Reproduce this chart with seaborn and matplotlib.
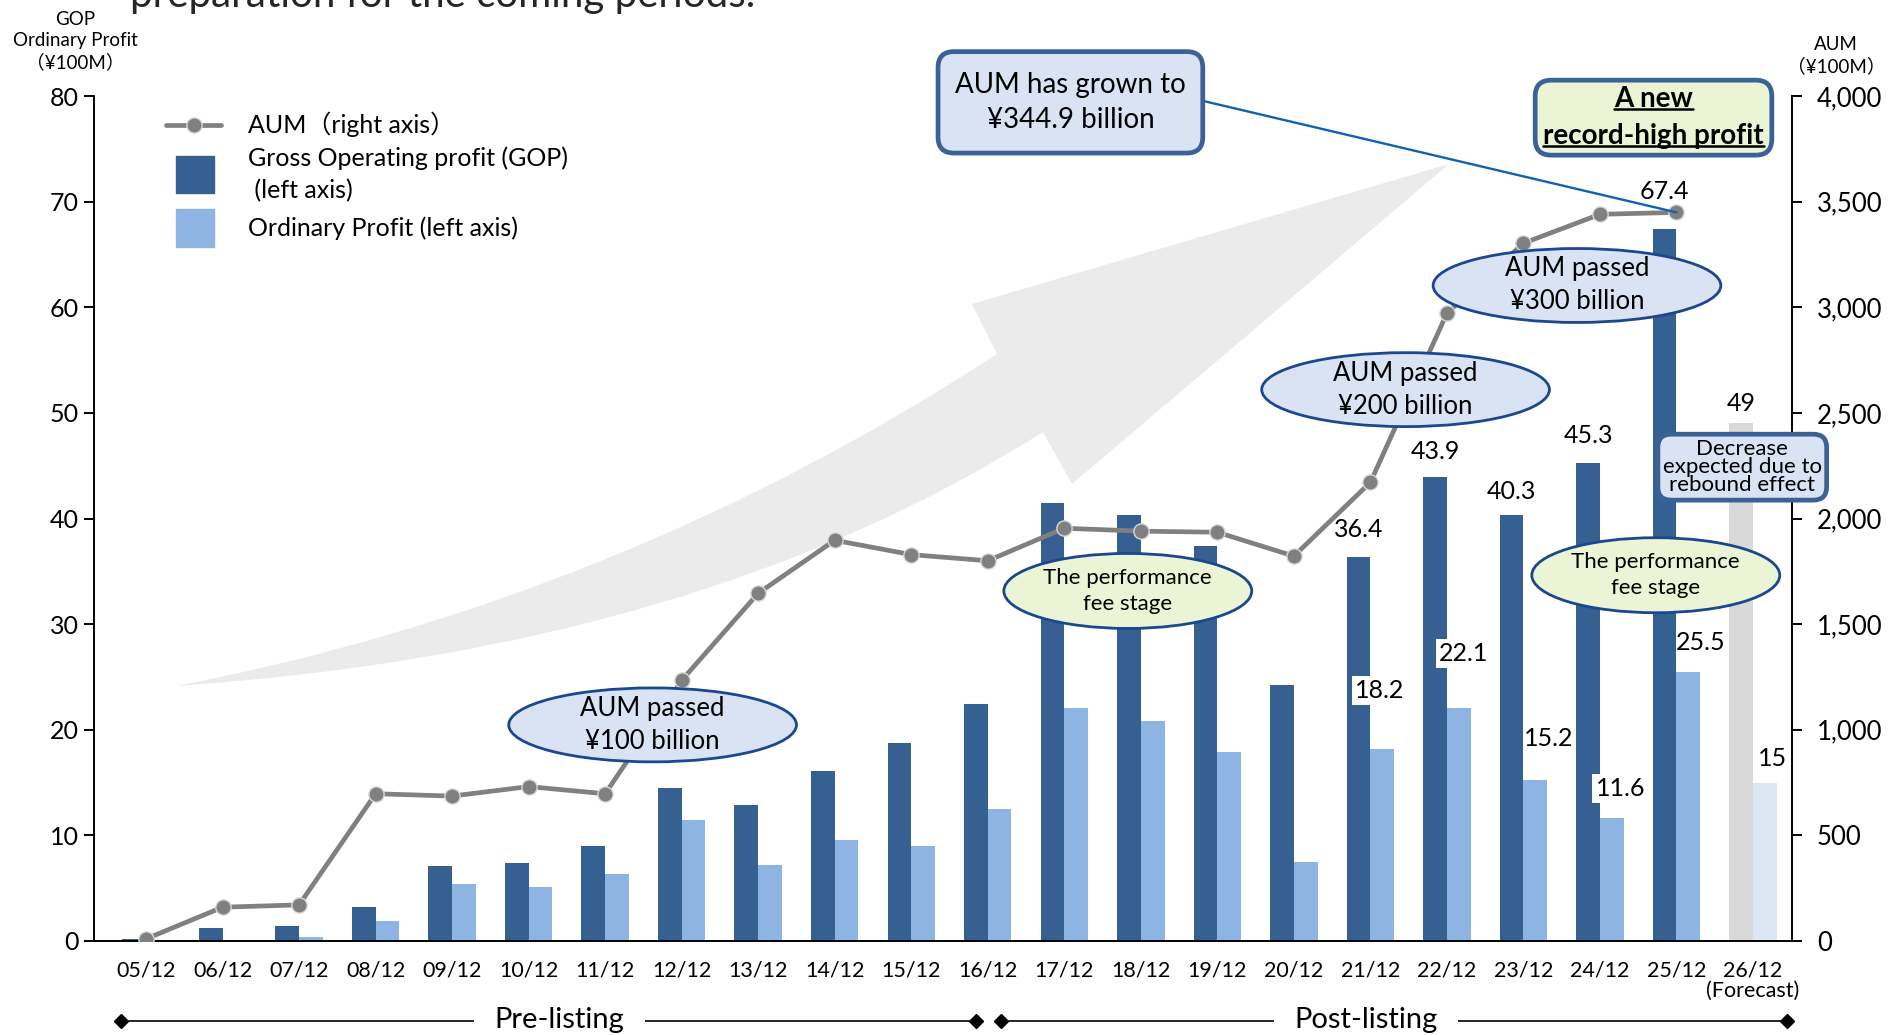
import numpy as np
import pandas as pd
import matplotlib
matplotlib.use("Agg")
import matplotlib.pyplot as plt
import matplotlib.transforms as mtransforms
import seaborn as sns
from matplotlib.patches import Ellipse, PathPatch, Rectangle, FancyBboxPatch
from matplotlib.path import Path
from matplotlib.lines import Line2D

# ---------------- data ----------------
periods = ["05/12", "06/12", "07/12", "08/12", "09/12", "10/12", "11/12", "12/12",
           "13/12", "14/12", "15/12", "16/12", "17/12", "18/12", "19/12", "20/12",
           "21/12", "22/12", "23/12", "24/12", "25/12", "26/12\n(Forecast)"]
gop = [0.2, 1.2, 1.4, 3.2, 7.1, 7.4, 9.0, 14.5, 12.9, 16.1, 18.7, 22.4,
       41.5, 40.3, 37.4, 24.2, 36.4, 43.9, 40.3, 45.3, 67.4, 49.0]
ordinary = [0.0, 0.0, 0.4, 1.9, 5.4, 5.1, 6.3, 11.5, 7.2, 9.6, 9.0, 12.5,
            22.1, 20.8, 17.9, 7.5, 18.2, 22.1, 15.2, 11.6, 25.5, 15.0]
aum = [10, 160, 171, 697, 686, 731, 697, 1234, 1646, 1897, 1829, 1800,
       1954, 1940, 1935, 1822, 2171, 2971, 3303, 3440, 3449]
left_ticks = [0, 10, 20, 30, 40, 50, 60, 70, 80]
right_ticks = [0, 500, 1000, 1500, 2000, 2500, 3000, 3500, 4000]

# ---------------- style ----------------
DARK = "#376092"
LIGHT = "#8eb4e3"
FC_GRAY = "#d9d9d9"
FC_LIGHT = "#dde7f4"
LINE_GRAY = "#808080"
NAVY = "#1a4790"
BOX_EDGE = "#3b6196"
BLUE_FILL = "#dae3f3"
GREEN_FILL = "#ebf5d5"

sns.set_theme(style="white")
plt.rcParams["font.family"] = ["Lato", "Noto Sans CJK JP", "DejaVu Sans"]
plt.rcParams["text.color"] = "black"

W, H = 1895, 1035
fig = plt.figure(figsize=(W / 100, H / 100), dpi=100)
ax = fig.add_axes([94 / W, 1 - 941 / H, (1792 - 94) / W, (941 - 96) / H])
IDT = mtransforms.IdentityTransform()


def fx(px):
    return px / W


def fy(py):
    return 1 - py / H


n = len(periods)
df = pd.DataFrame({
    "period": periods * 2,
    "value": gop + ordinary,
    "series": ["GOP"] * n + ["Ordinary"] * n,
})

# big background arrow (figure pixel space)
T = (177, 686)
verts = [T, (620, 600), (997, 354), (972, 304), (1449, 164), (1072, 484),
         (1043, 432), (700, 650), T, T]
codes = [Path.MOVETO, Path.CURVE3, Path.CURVE3, Path.LINETO, Path.LINETO,
         Path.LINETO, Path.LINETO, Path.CURVE3, Path.CURVE3, Path.CLOSEPOLY]
verts_f = [(fx(x), fy(y)) for x, y in verts]
arrow = PathPatch(Path(verts_f, codes), facecolor="#ebebeb", edgecolor="none",
                  transform=fig.transFigure, zorder=0.5)
ax.add_patch(arrow)

sns.barplot(data=df, x="period", y="value", hue="series", order=periods,
            hue_order=["GOP", "Ordinary"], palette=[DARK, LIGHT], width=0.62,
            dodge=True, errorbar=None, saturation=1, legend=False, ax=ax,
            linewidth=0, zorder=2)
ax.containers[0][-1].set_facecolor(FC_GRAY)
ax.containers[1][-1].set_facecolor(FC_LIGHT)

ax2 = ax.twinx()
sns.lineplot(x=np.arange(len(aum)), y=aum, ax=ax2, color=LINE_GRAY, lw=3.4,
             marker="o", markersize=11, markerfacecolor=LINE_GRAY,
             markeredgecolor="#d8d8d8", markeredgewidth=1.0, zorder=3)

ax.set_xlim(-0.68, 21.51)
ax.set_ylim(0, 80)
ax2.set_ylim(0, 4000)
ax.set_xlabel("")
ax.set_ylabel("")
ax2.set_xlabel("")
ax2.set_ylabel("")

for s in ["top", "right"]:
    ax.spines[s].set_visible(False)
for s in ["top", "left", "bottom"]:
    ax2.spines[s].set_visible(False)
for sp in [ax.spines["left"], ax.spines["bottom"], ax2.spines["right"]]:
    sp.set_color("black")
    sp.set_linewidth(1.4)

ax.set_yticks(left_ticks)
ax.set_yticklabels([str(v) for v in left_ticks])
ax.tick_params(axis="y", left=True, length=7, width=1.4, direction="out",
               labelsize=18, pad=4, colors="black")
ax.tick_params(axis="x", bottom=False, length=0, labelsize=15.5, pad=14,
               colors="black")
ax2.set_yticks(right_ticks)
ax2.set_yticklabels([f"{v:,}" for v in right_ticks])
ax2.tick_params(axis="y", right=True, length=7, width=1.4, direction="out",
                labelsize=18.5, pad=11, colors="black")
for lab in ax.get_xticklabels():
    lab.set_linespacing(1.0)

# ---------------- axis titles / title ----------------
fig.text(fx(75), fy(41), "GOP\nOrdinary Profit\n（¥100M）", ha="center", va="center",
         fontsize=13.5, linespacing=1.3)
fig.text(fx(1836), fy(56), "AUM\n（¥100M）", ha="center", va="center",
         fontsize=13.5, linespacing=1.3)
fig.text(fx(130), fy(7), "preparation for the coming periods.", fontsize=29,
         va="baseline", color="#262626")

# ---------------- legend ----------------
fig.add_artist(Line2D([fx(166), fx(193.5), fx(221)], [fy(124.5)] * 3,
                      color=LINE_GRAY, lw=3.4, marker="o", ms=11, markevery=[1],
                      markerfacecolor=LINE_GRAY, markeredgecolor="#d8d8d8"))
fig.add_artist(Rectangle((fx(176), fy(193)), (214 - 176) / W, (193 - 156) / H,
                         color=DARK, transform=fig.transFigure))
fig.add_artist(Rectangle((fx(176), fy(247)), (214 - 176) / W, (247 - 209) / H,
                         color=LIGHT, transform=fig.transFigure))
fig.text(fx(248), fy(124.5), "AUM（right axis）", va="center", fontsize=18)
fig.text(fx(248), fy(158), "Gross Operating profit (GOP)", va="center", fontsize=18)
fig.text(fx(248), fy(191), " (left axis)", va="center", fontsize=18)
fig.text(fx(248), fy(228), "Ordinary Profit (left axis)", va="center", fontsize=18)

# ---------------- annotations (drawn on top axis, in left-axis data units) ----------------
td = ax.transData
AUM_TO_LEFT = 80 / 4000


def ellipse(cx, cy, w, h, fill, text, fs):
    e = Ellipse((cx, cy), w, h, facecolor=fill, edgecolor=NAVY, lw=2.0,
                transform=td, zorder=5)
    ax2.add_patch(e)
    ax2.text(cx, cy, text, transform=td, ha="center", va="center", fontsize=fs,
             linespacing=1.4, zorder=6)


ellipse(6.62, 20.46, 3.76, 7.0, BLUE_FILL, "AUM passed\n¥100 billion", 18.5)
ellipse(16.46, 52.2, 3.76, 7.0, BLUE_FILL, "AUM passed\n¥200 billion", 18.5)
ellipse(18.70, 62.06, 3.76, 7.0, BLUE_FILL, "AUM passed\n¥300 billion", 18.5)
ellipse(12.83, 33.14, 3.24, 7.1, GREEN_FILL, "The performance\nfee stage", 16)
ellipse(19.73, 34.63, 3.24, 7.1, GREEN_FILL, "The performance\nfee stage", 16)

# connector from AUM box to latest AUM point
ax2.add_line(Line2D([13.81, len(aum) - 1], [79.54, aum[-1] * AUM_TO_LEFT],
                    color="#1260b0", lw=1.7, transform=td, zorder=4,
                    clip_on=False))

t_aum = ax2.text(12.08, 79.4, "AUM has grown to\n¥344.9 billion", transform=td,
                 ha="center", va="center", fontsize=20, linespacing=1.45,
                 zorder=8)

t1 = ax2.text(19.70, 79.7, "A new", transform=td, ha="center", va="center",
              fontsize=20, fontweight="bold", zorder=8)
t2 = ax2.text(19.70, 76.2, "record-high profit", transform=td, ha="center",
              va="center", fontsize=20, fontweight="bold", zorder=8)

ax2.text(20.86, 44.86, "Decrease\nexpected due to\nrebound effect", transform=td,
         ha="center", va="center", fontsize=16, linespacing=0.88, zorder=7,
         bbox=dict(boxstyle="round,pad=0.22,rounding_size=0.6",
                   facecolor=BLUE_FILL, edgecolor=BOX_EDGE, lw=3.4))

# value labels
gop_label = {16: 2.6, 17: 2.4, 18: 2.3, 19: 2.6, 20: 3.6, 21: 1.9}
op_label = {16: (-0.03, 5.5, True), 17: (0.06, 5.1, True), 18: (0.17, 4.0, False),
            19: (0.11, 2.8, True), 20: (0.16, 2.8, False), 21: (0.10, 2.3, False)}


def fmt(v):
    return f"{v:g}"


for i, dy in gop_label.items():
    ax2.text(i - 0.155, gop[i] + dy, fmt(gop[i]), transform=td, ha="center",
             va="center", fontsize=18, zorder=6)
for i, (dx, dy, bg) in op_label.items():
    kw = {}
    if bg:
        kw["bbox"] = dict(boxstyle="square,pad=0.12", facecolor="white",
                          edgecolor="none")
    ax2.text(i + 0.155 + dx, ordinary[i] + dy, fmt(ordinary[i]), transform=td,
             ha="center", va="center", fontsize=18, zorder=6, **kw)

# ---------------- listing brackets below the axis ----------------
bt = mtransforms.blended_transform_factory(ax.transData, fig.transFigure)
for x0, x1 in [(-0.33, 10.85), (11.17, 21.44)]:
    fig.add_artist(Line2D([x0, x1], [fy(1021)] * 2, color="black", lw=1.2,
                          marker="D", ms=7, markevery=[0, 1], transform=bt))
xs = {"Pre-listing": 5.40, "Post-listing": 15.94}
for label, xc in xs.items():
    fig.text(xc, fy(1028), label, transform=bt, ha="center", va="baseline",
             fontsize=21, bbox=dict(boxstyle="square,pad=0.7", facecolor="white",
                                    edgecolor="none"))

# rounded boxes sized in pixel space (after layout)
fig.canvas.draw()
r = fig.canvas.get_renderer()


def pixel_box(bb, px, py, fill, zorder=7):
    p = FancyBboxPatch((bb.x0 - px, bb.y0 - py), bb.width + 2 * px,
                       bb.height + 2 * py, boxstyle="round,pad=0,rounding_size=16",
                       facecolor=fill, edgecolor=BOX_EDGE, lw=3.4,
                       transform=IDT, zorder=zorder, clip_on=False)
    ax2.add_artist(p)


ba = t_aum.get_window_extent(r)
pixel_box(ba, 17, 20, BLUE_FILL)

b1 = t1.get_window_extent(r)
b2 = t2.get_window_extent(r)
u = mtransforms.Bbox.union([b1, b2])
pixel_box(u, 8, 6, GREEN_FILL)
for bb in (b1, b2):
    yy = bb.y0 + 0.13 * bb.height
    fig.add_artist(Line2D([bb.x0, bb.x1], [yy, yy], color="black", lw=1.8,
                          transform=IDT, zorder=10))

fig.savefig("out.png", dpi=100)
